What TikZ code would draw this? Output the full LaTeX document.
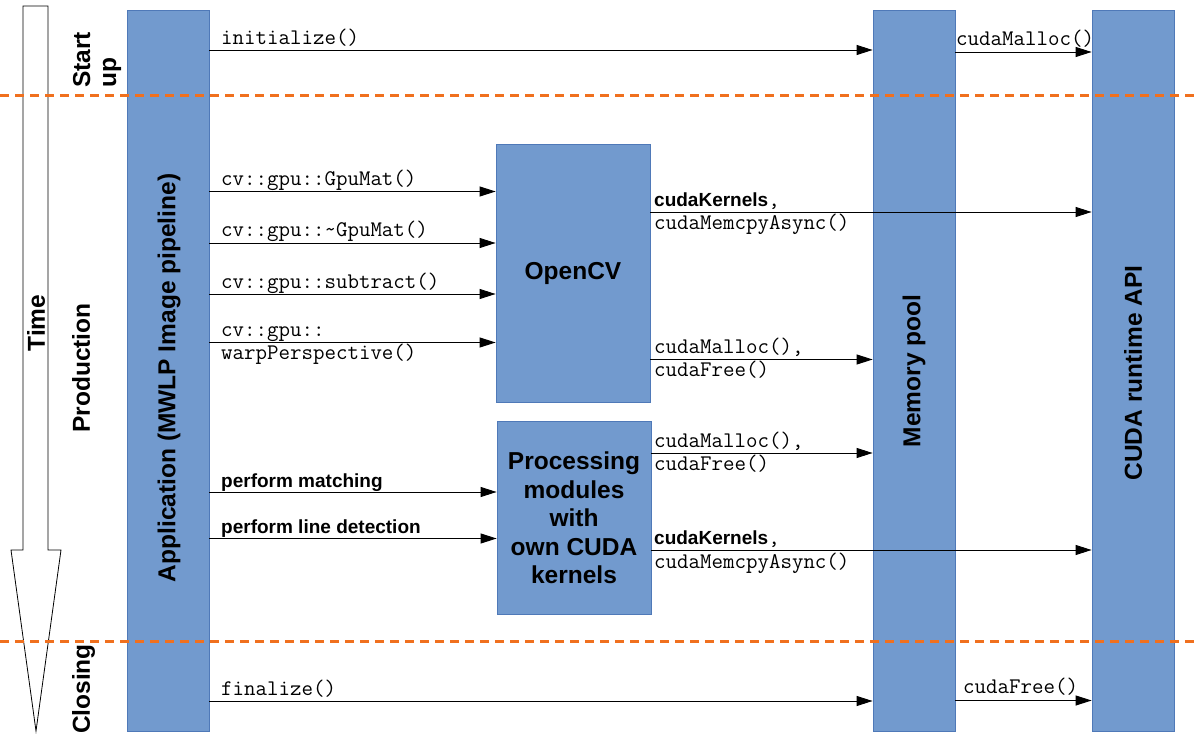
\documentclass[tikz,border=0pt]{standalone}
\usepackage{fontspec}
\setmainfont{Liberation Sans}
\usetikzlibrary{arrows.meta}
\definecolor{barblue}{HTML}{729ACE}
\definecolor{barborder}{HTML}{4F79B8}
\definecolor{dashorange}{HTML}{F0701E}
\begin{document}
\begin{tikzpicture}[x=1pt,y=-1pt,
  bar/.style={draw=barborder,fill=barblue,line width=0.8pt,inner sep=0pt},
  big/.style={font=\fontsize{24.5}{28.5}\selectfont\bfseries,inner sep=0pt},
  arr/.style={-{Triangle[length=16pt,width=10pt]},line width=0.9pt},
  mono/.style={font=\fontsize{22.3}{24}\selectfont\ttfamily,anchor=base west,inner sep=0pt},
  sans/.style={font=\fontsize{19}{22}\selectfont\bfseries,anchor=base west,inner sep=0pt},
  phase/.style={draw=dashorange,line width=3pt,dash pattern=on 9pt off 6pt}]
\useasboundingbox (0,0) rectangle (1197,735);
% time arrow
\draw[fill=white,line width=0.8pt] (23,550) -- (23,6) -- (48,6) -- (48,550) -- (61,550) -- (36,731) -- (11,550) -- cycle;
\node[big,rotate=90] (time) at (36,323) {Time};
% phase labels
\node[big,rotate=90,align=left,font=\fontsize{24.5}{26}\selectfont\bfseries] (startup) at (97,60) {Start\\up};
\node[big,rotate=90] (production) at (81,368) {Production};
\node[big,rotate=90] (closing) at (83.5,689) {Closing};
% bars
\node[bar,minimum width=82pt,minimum height=721pt] (app) at (168,370.5) {};
\node[bar,minimum width=82pt,minimum height=721pt] (mem) at (914,370.5) {};
\node[bar,minimum width=82pt,minimum height=721pt] (cuda) at (1133,370.5) {};
\node[bar,minimum width=154pt,minimum height=258pt] (ocv) at (573,273) {};
\node[bar,minimum width=154pt,minimum height=193pt] (proc) at (574,517.5) {};
\node[big,rotate=90] (apptxt) at (169,378) {Application (MWLP Image pipeline)};
\node[big,rotate=90] (memtxt) at (914,371) {Memory pool};
\node[big,rotate=90] (cudatxt) at (1133,373) {CUDA runtime API};
\node[big] (ocvtxt) at (573,273) {OpenCV};
\node[big,align=center] (proctxt) at (574,518) {Processing\\modules\\with\\own CUDA\\kernels};
% start up
\draw[arr] (app.east |- 0,50) -- (mem.west |- 0,50);
\node[mono] (linit) at (221,45) {initialize()};
\draw[arr] (mem.east |- 0,52) -- (cuda.west |- 0,52);
\node[mono] (lmalloc0) at (956,46) {cudaMalloc()};
% opencv calls
\draw[arr] (app.east |- 0,191.5) -- (ocv.west |- 0,191.5);
\node[mono] (lgm) at (221,186) {cv::gpu::GpuMat()};
\draw[arr] (app.east |- 0,243) -- (ocv.west |- 0,243);
\node[mono] (lngm) at (221,237) {cv::gpu::\textasciitilde GpuMat()};
\draw[arr] (app.east |- 0,294) -- (ocv.west |- 0,294);
\node[mono] (lsub) at (221,289) {cv::gpu::subtract()};
\draw[arr] (app.east |- 0,342.5) -- (ocv.west |- 0,342.5);
\node[mono] (lwp1) at (221,337) {cv::gpu::};
\node[mono] (lwp2) at (221,359.5) {warpPerspective()};
% opencv outgoing
\draw[arr] (ocv.east |- 0,212) -- (cuda.west |- 0,212);
\node[sans] (lk1) at (654,206.5) {cudaKernels{\mdseries\ttfamily\fontsize{22.3}{24}\selectfont,}};
\node[mono] (lk1b) at (654,230) {cudaMemcpyAsync()};
\draw[arr] (ocv.east |- 0,359.5) -- (mem.west |- 0,359.5);
\node[mono] (lm1) at (654,354) {cudaMalloc(),};
\node[mono] (lm1b) at (654,377) {cudaFree()};
% processing
\draw[arr] (app.east |- 0,492) -- (proc.west |- 0,492);
\node[sans] (lpm) at (221,487) {perform matching};
\draw[arr] (app.east |- 0,538.5) -- (proc.west |- 0,538.5);
\node[sans] (lpl) at (221,533) {perform line detection};
\draw[arr] (proc.east |- 0,453) -- (mem.west |- 0,453);
\node[mono] (lm2) at (654,447.5) {cudaMalloc(),};
\node[mono] (lm2b) at (654,470.5) {cudaFree()};
\draw[arr] (proc.east |- 0,550) -- (cuda.west |- 0,550);
\node[sans] (lk2) at (654,544.5) {cudaKernels{\mdseries\ttfamily\fontsize{22.3}{24}\selectfont,}};
\node[mono] (lk2b) at (654,568) {cudaMemcpyAsync()};
% closing
\draw[arr] (app.east |- 0,701) -- (mem.west |- 0,701);
\node[mono] (lfin) at (221,695.5) {finalize()};
\draw[arr] (mem.east |- 0,700.5) -- (cuda.west |- 0,700.5);
\node[mono] (lfree) at (963,693.5) {cudaFree()};
% phase separators
\draw[phase] (0,96) -- (1197,96);
\draw[phase] (0,641) -- (1197,641);
\end{tikzpicture}
\end{document}
